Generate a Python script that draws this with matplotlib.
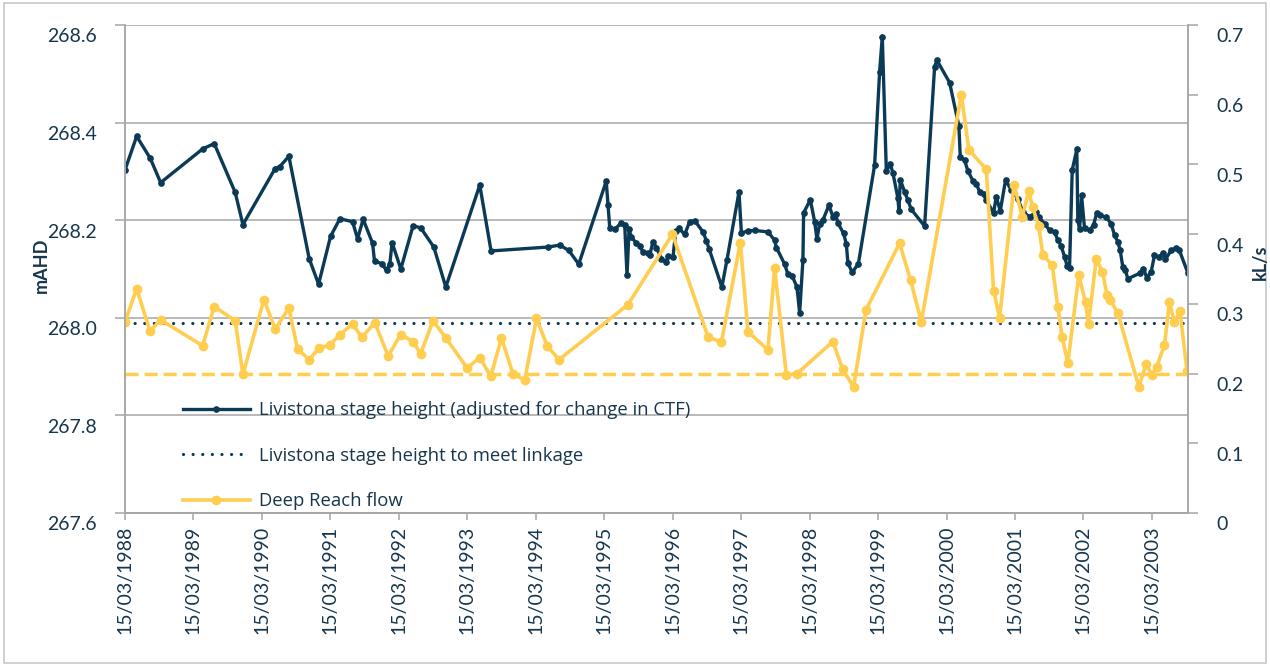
import numpy as np
import pandas as pd
import matplotlib
matplotlib.use("Agg")
import matplotlib.pyplot as plt
import matplotlib.dates as mdates
import matplotlib.transforms as mtransforms
from matplotlib.patches import Rectangle

plt.rcParams['font.family'] = ['Lato', 'DejaVu Sans']

# --- data (decimal years) ---
level_years = [
    1988.203, 1988.373, 1988.571, 1988.723, 1989.336, 1989.506, 1989.812, 1989.925,
    1990.392, 1990.465, 1990.596, 1990.893, 1991.030, 1991.205, 1991.341, 1991.526,
    1991.599, 1991.681, 1991.818, 1991.847, 1991.954, 1992.022, 1992.071, 1992.104,
    1992.231, 1992.411, 1992.523, 1992.713, 1992.888, 1993.384, 1993.549, 1994.382,
    1994.552, 1994.684, 1994.830, 1995.231, 1995.257, 1995.282, 1995.355, 1995.453,
    1995.501, 1995.535, 1995.564, 1995.599, 1995.672, 1995.720, 1995.768, 1995.841,
    1995.866, 1995.914, 1995.964, 1996.037, 1996.100, 1996.133, 1996.206, 1996.246,
    1996.294, 1996.377, 1996.450, 1996.523, 1996.644, 1996.694, 1996.732, 1996.920,
    1996.995, 1997.170, 1997.205, 1997.301, 1997.399, 1997.593, 1997.691, 1997.716,
    1997.837, 1997.885, 1997.949, 1998.017, 1998.056, 1998.104, 1998.114, 1998.212,
    1998.275, 1998.309, 1998.348, 1998.396, 1998.484, 1998.542, 1998.582, 1998.615,
    1998.698, 1998.738, 1998.761, 1998.825, 1998.914, 1999.151, 1999.224, 1999.263,
    1999.322, 1999.380, 1999.418, 1999.491, 1999.506, 1999.526, 1999.589, 1999.637,
    1999.687, 1999.881, 2000.027, 2000.060, 2000.246, 2000.382, 2000.402, 2000.465,
    2000.513, 2000.586, 2000.636, 2000.684, 2000.742, 2000.782, 2000.888, 2000.928,
    2000.986, 2001.063, 2001.147, 2001.243, 2001.316, 2001.414, 2001.511, 2001.549,
    2001.633, 2001.706, 2001.779, 2001.827, 2001.877, 2001.925, 2001.964, 2001.998,
    2002.037, 2002.104, 2002.119, 2002.144, 2002.173, 2002.217, 2002.290, 2002.348,
    2002.396, 2002.436, 2002.533, 2002.606, 2002.655, 2002.703, 2002.738, 2002.776,
    2002.815, 2002.849, 2003.020, 2003.078, 2003.126, 2003.190, 2003.238, 2003.301,
    2003.360, 2003.399, 2003.482, 2003.555, 2003.603, 2003.728,
]
level_mahd = [
    268.303, 268.372, 268.327, 268.277, 268.346, 268.357, 268.257, 268.191,
    268.305, 268.310, 268.331, 268.121, 268.069, 268.167, 268.203, 268.197,
    268.162, 268.202, 268.153, 268.116, 268.111, 268.097, 268.111, 268.154,
    268.100, 268.189, 268.184, 268.145, 268.063, 268.272, 268.137, 268.145,
    268.149, 268.138, 268.110, 268.280, 268.232, 268.185, 268.181, 268.195,
    268.190, 268.087, 268.181, 268.165, 268.153, 268.147, 268.135, 268.133,
    268.128, 268.156, 268.144, 268.121, 268.114, 268.126, 268.125, 268.177,
    268.183, 268.171, 268.197, 268.199, 268.176, 268.158, 268.142, 268.063,
    268.119, 268.258, 268.174, 268.178, 268.179, 268.176, 268.159, 268.144,
    268.110, 268.089, 268.085, 268.063, 268.010, 268.119, 268.215, 268.242,
    268.197, 268.161, 268.193, 268.200, 268.231, 268.207, 268.212, 268.194,
    268.173, 268.151, 268.112, 268.093, 268.111, 268.313, 268.504, 268.576,
    268.301, 268.315, 268.297, 268.245, 268.219, 268.283, 268.258, 268.241,
    268.222, 268.188, 268.514, 268.528, 268.482, 268.393, 268.329, 268.323,
    268.301, 268.281, 268.275, 268.258, 268.253, 268.241, 268.215, 268.248,
    268.219, 268.282, 268.262, 268.244, 268.217, 268.207, 268.217, 268.206,
    268.193, 268.179, 268.176, 268.159, 268.147, 268.125, 268.106, 268.103,
    268.303, 268.345, 268.201, 268.181, 268.251, 268.183, 268.179, 268.190,
    268.215, 268.210, 268.206, 268.193, 268.169, 268.156, 268.138, 268.104,
    268.097, 268.080, 268.091, 268.101, 268.082, 268.094, 268.128, 268.124,
    268.132, 268.120, 268.138, 268.143, 268.138, 268.091,
]

flow_years = [
    1988.203, 1988.373, 1988.567, 1988.723, 1989.336, 1989.506, 1989.812, 1989.925,
    1990.231, 1990.396, 1990.596, 1990.723, 1990.893, 1991.030, 1991.195, 1991.341,
    1991.526, 1991.662, 1991.852, 1992.046, 1992.227, 1992.411, 1992.519, 1992.703,
    1992.888, 1993.199, 1993.384, 1993.545, 1993.701, 1993.871, 1994.041, 1994.212,
    1994.373, 1994.542, 1995.549, 1996.198, 1996.717, 1996.913, 1997.190, 1997.301,
    1997.593, 1997.691, 1997.862, 1998.017, 1998.542, 1998.684, 1998.844, 1999.024,
    1999.516, 1999.676, 1999.833, 2000.417, 2000.528, 2000.782, 2000.888, 2000.976,
    2001.187, 2001.307, 2001.403, 2001.457, 2001.549, 2001.608, 2001.745, 2001.827,
    2001.891, 2001.973, 2002.133, 2002.231, 2002.275, 2002.387, 2002.479, 2002.545,
    2002.589, 2002.703, 2003.010, 2003.117, 2003.199, 2003.268, 2003.384, 2003.457,
    2003.530, 2003.611, 2003.713,
]
flow_kls = [
    0.274, 0.322, 0.261, 0.277, 0.240, 0.296, 0.276, 0.199,
    0.306, 0.264, 0.294, 0.235, 0.220, 0.236, 0.241, 0.256,
    0.271, 0.252, 0.273, 0.225, 0.256, 0.246, 0.228, 0.276,
    0.251, 0.208, 0.223, 0.196, 0.251, 0.199, 0.191, 0.279,
    0.239, 0.220, 0.299, 0.400, 0.253, 0.245, 0.388, 0.260,
    0.234, 0.351, 0.198, 0.200, 0.246, 0.206, 0.181, 0.291,
    0.387, 0.334, 0.274, 0.600, 0.521, 0.493, 0.319, 0.280,
    0.471, 0.425, 0.462, 0.439, 0.411, 0.370, 0.356, 0.295,
    0.252, 0.215, 0.341, 0.302, 0.271, 0.364, 0.346, 0.313,
    0.306, 0.287, 0.181, 0.214, 0.198, 0.209, 0.241, 0.302,
    0.274, 0.290, 0.204,
]

linkage_mahd = 267.99     # stage height to meet linkage
flow_threshold = 0.2      # kL/s
tick_years = list(range(1988, 2004))

navy = '#0b3a56'
yellow = '#ffcd50'
text_col = '#17364d'
grey = '#a6a6a6'


def years_to_dates(yrs):
    return pd.to_datetime('1988-01-01') + pd.to_timedelta((np.asarray(yrs) - 1988) * 365.25, unit='D')


level_dates = years_to_dates(level_years)
flow_dates = years_to_dates(flow_years)

fig = plt.figure(figsize=(12.7, 6.66), dpi=100)
ax = fig.add_axes([125 / 1270, 1 - 513 / 666, (1188 - 125) / 1270, (513 - 25) / 666])
ax2 = ax.twinx()

l1, = ax.plot(level_dates, level_mahd, color=navy, lw=2.4, marker='o', ms=3.8,
              label='Livistona stage height (adjusted for change in CTF)')
l2 = ax.axhline(linkage_mahd, color=navy, lw=2.3, linestyle=(0, (0.01, 3.0)),
                dash_capstyle='round', label='Livistona stage height to meet linkage')
l3, = ax2.plot(flow_dates, flow_kls, color=yellow, lw=2.6, marker='o', ms=6,
               label='Deep Reach flow')
ax2.axhline(flow_threshold, color=yellow, lw=2.5, linestyle=(0, (3.75, 1.75)))

ax.set_xlim(level_dates[0], level_dates[-1])
ax.set_ylim(267.6, 268.6)
ax.set_yticks(np.round(np.arange(267.6, 268.61, 0.2), 1))
ax.yaxis.set_major_formatter(plt.FormatStrFormatter('%.1f'))
ax2.set_ylim(0, 0.7)
ax2.set_yticks(np.round(np.arange(0, 0.71, 0.1), 1))
ax2.set_yticklabels(['0'] + ['%.1f' % v for v in np.arange(0.1, 0.71, 0.1)])

ax.set_xticks([pd.Timestamp(f'{y}-03-15') for y in tick_years])
ax.xaxis.set_major_formatter(mdates.DateFormatter('%d/%m/%Y'))

ax.yaxis.grid(True, color=grey, lw=1.1)
ax.set_axisbelow(True)

for a in (ax, ax2):
    for s in a.spines.values():
        s.set_color(grey)
        s.set_linewidth(1.1)
    a.spines['top'].set_visible(False)

ax.tick_params(axis='y', direction='out', length=7.5, width=1.1, color=grey,
               labelsize=14, labelcolor=text_col, pad=13)
ax2.tick_params(axis='y', direction='out', length=7.5, width=1.1, color=grey,
                labelsize=14, labelcolor=text_col, pad=13)
ax.tick_params(axis='x', direction='out', length=5, width=1.1, color=grey,
               labelsize=14, labelcolor=text_col, labelrotation=90, pad=4)

# tick labels sit a little below their ticks in the original
shift = mtransforms.ScaledTranslation(0, -7.5 / 72, fig.dpi_scale_trans)
for lab in ax.get_yticklabels() + ax2.get_yticklabels():
    lab.set_transform(lab.get_transform() + shift)

fig.text(41 / 1270, 1 - 265 / 666, 'mAHD', rotation=90, fontsize=13, fontweight='bold',
         color=text_col, ha='center', va='center')
fig.text(1260 / 1270, 1 - 262 / 666, 'kL/s', rotation=90, fontsize=13, fontweight='bold',
         color=text_col, ha='center', va='center')

ax2.legend([l1, l2, l3], [l1.get_label(), l2.get_label(), l3.get_label()],
           loc='upper left', bbox_to_anchor=(0.0546, 0.2295), frameon=False,
           prop={'family': ['Open Sans', 'DejaVu Sans'], 'size': 13.3},
           handlelength=3.62, handletextpad=0.49, labelspacing=1.5,
           borderpad=0, borderaxespad=0, labelcolor=text_col, numpoints=1)

fig.patches.append(Rectangle((0.003, 0.005), 0.994, 0.99, transform=fig.transFigure,
                             fill=False, edgecolor='#c8c8c8', lw=1.2))

fig.savefig('out.png', dpi=100)
